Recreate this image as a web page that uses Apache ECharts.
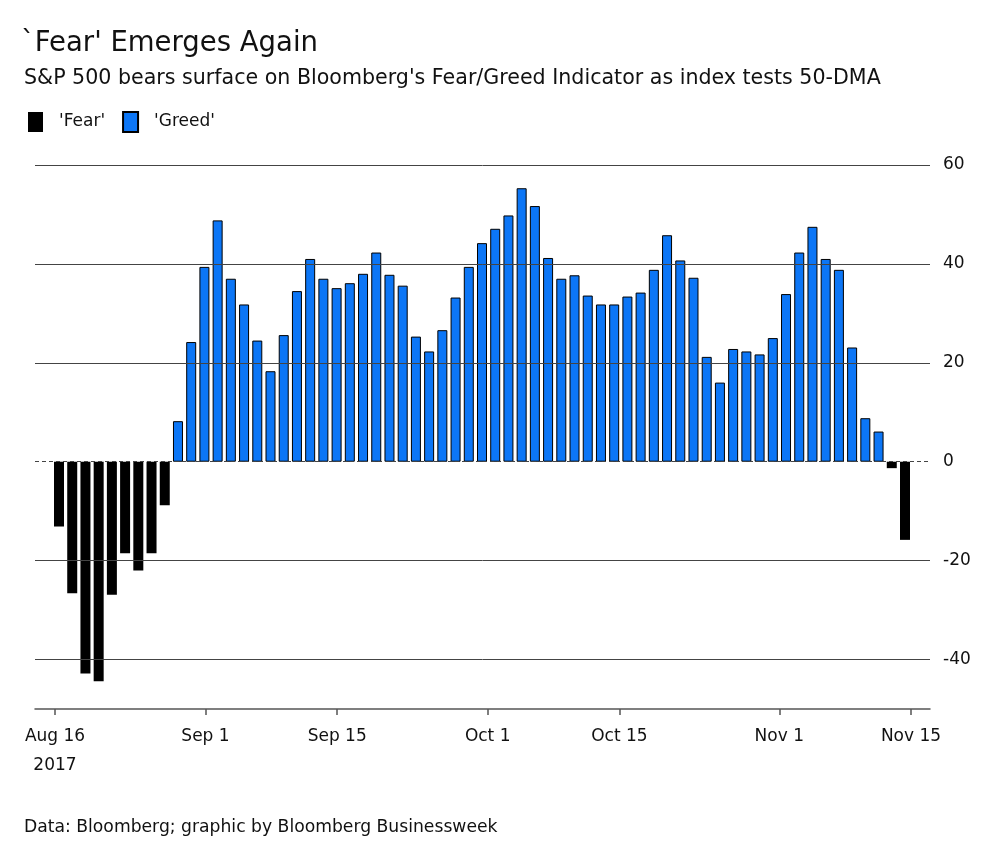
<!DOCTYPE html>
<html>
<head>
<meta charset="utf-8">
<script src="https://cdn.jsdelivr.net/npm/echarts@6/dist/echarts.min.js"></script>
<style>
html,body{margin:0;padding:0;background:#fff;}
#chart{width:1000px;height:846px;}
</style>
</head>
<body>
<div id="chart"></div>
<script>
// Business days, Aug 16 - Nov 15, 2017
const dates = [
  'Aug 16','Aug 17','Aug 18','Aug 21','Aug 22','Aug 23','Aug 24','Aug 25','Aug 28','Aug 29','Aug 30','Aug 31',
  'Sep 1','Sep 5','Sep 6','Sep 7','Sep 8','Sep 11','Sep 12','Sep 13','Sep 14','Sep 15','Sep 18','Sep 19','Sep 20','Sep 21','Sep 22','Sep 25','Sep 26','Sep 27','Sep 28','Sep 29',
  'Oct 2','Oct 3','Oct 4','Oct 5','Oct 6','Oct 9','Oct 10','Oct 11','Oct 12','Oct 13','Oct 16','Oct 17','Oct 18','Oct 19','Oct 20','Oct 23','Oct 24','Oct 25','Oct 26','Oct 27','Oct 30','Oct 31',
  'Nov 1','Nov 2','Nov 3','Nov 6','Nov 7','Nov 8','Nov 9','Nov 10','Nov 13','Nov 14','Nov 15'
];
const fear = [
  -13.1,-26.6,-42.8,-44.4,-26.9,-18.5,-22.0,-18.5,-8.8,
  '-','-','-','-','-','-','-','-','-','-','-','-','-','-','-','-','-','-','-','-','-','-','-','-','-','-','-','-','-','-','-','-','-','-','-','-','-','-','-','-','-','-','-','-','-','-','-','-','-','-','-','-','-','-',
  -1.3,-15.8
];
const greed = [
  '-','-','-','-','-','-','-','-','-',
  8.2,24.2,39.4,48.8,37.0,31.8,24.5,18.3,25.6,34.5,41.0,37.0,35.1,36.1,38.0,42.3,37.8,35.6,25.3,22.3,26.6,
  33.2,39.4,44.2,47.1,49.8,55.3,51.7,41.2,37.0,37.7,33.6,31.8,31.8,33.4,34.2,38.8,45.8,40.7,37.2,
  21.2,16.0,22.8,22.3,21.7,25.0,33.9,42.3,47.5,41.0,38.8,23.1,8.8,6.1,
  '-','-'
];
// calendar-day offsets from Aug 16, 2017 for the date ticks
const tickDays = [0, 16, 30, 46, 60, 77, 91];
const tickLabels = ['Aug 16\n2017', 'Sep 1', 'Sep 15', 'Oct 1', 'Oct 15', 'Nov 1', 'Nov 15'];
const gridValues = [60, 40, 20, -20, -40];
const yLabels = [60, 40, 20, 0, -20, -40];

const FONT = 'DejaVu Sans';
const TXT = '#111';
const BLUE = '#0c76f6';

const chart = echarts.init(document.getElementById('chart'), null, {renderer: 'canvas'});
const option = {
  animation: false,
  backgroundColor: '#fff',
  title: [
    {text: "`Fear' Emerges Again", left: 21, top: 30, padding: 0,
     textStyle: {fontFamily: FONT, fontSize: 27.5, fontWeight: 'normal', color: TXT}},
    {text: "S&P 500 bears surface on Bloomberg's Fear/Greed Indicator as index tests 50-DMA", left: 24, top: 68, padding: 0,
     textStyle: {fontFamily: FONT, fontSize: 20.6, fontWeight: 'normal', color: TXT}},
    {text: 'Data: Bloomberg; graphic by Bloomberg Businessweek', left: 24, top: 819, padding: 0,
     textStyle: {fontFamily: FONT, fontSize: 17.2, fontWeight: 'normal', color: TXT}}
  ],
  legend: {
    data: ["'Fear'", "'Greed'"],
    left: 28, top: 111, padding: 0,
    itemWidth: 15, itemHeight: 20, itemGap: 17,
    icon: 'rect',
    textStyle: {fontFamily: FONT, fontSize: 17, color: TXT, padding: [0, 0, 0, 11]}
  },
  grid: [
    {left: 35, top: 165, width: 895, height: 544},
    {left: 52.4, top: 165, width: 859.2, height: 544}
  ],
  xAxis: [
    {
      type: 'value', gridIndex: 0,
      min: -2.126, max: 93.02,
      axisLine: {show: true, onZero: false, lineStyle: {color: '#555', width: 1.5}},
      axisTick: {show: true, customValues: tickDays, length: 6, lineStyle: {color: '#555', width: 1.5}},
      axisLabel: {
        customValues: tickDays,
        margin: 13,
        fontFamily: FONT, fontSize: 17, color: TXT, lineHeight: 29,
        formatter: function (v) { const i = tickDays.indexOf(Math.round(v)); return i >= 0 ? tickLabels[i] : ''; }
      },
      splitLine: {show: false}
    },
    {
      type: 'category', gridIndex: 1, data: dates, show: false,
      boundaryGap: true
    }
  ],
  yAxis: [
    {
      type: 'value', gridIndex: 0, position: 'right',
      min: -50, max: 60, interval: 10,
      axisLine: {show: false}, axisTick: {show: false},
      splitLine: {show: false},
      axisLabel: {
        margin: 13, fontFamily: FONT, fontSize: 17, color: TXT,
        formatter: function (v) { return yLabels.indexOf(v) >= 0 ? String(v) : ''; }
      }
    },
    {type: 'value', gridIndex: 1, min: -50, max: 60, show: false}
  ],
  series: [
    {
      type: 'line', xAxisIndex: 0, yAxisIndex: 0, data: [], z: 1,
      markLine: {
        silent: true, symbol: 'none', animation: false,
        label: {show: false},
        data: gridValues.map(v => ({yAxis: v, lineStyle: {color: '#444', width: 1, type: 'solid'}}))
          .concat([{yAxis: 0, lineStyle: {color: '#444', width: 1, type: [4, 3]}}])
      }
    },
    {
      name: "'Fear'", type: 'bar', xAxisIndex: 1, yAxisIndex: 1, stack: 'fg',
      data: fear, barWidth: 10, z: 3,
      itemStyle: {color: '#000'}
    },
    {
      name: "'Greed'", type: 'bar', xAxisIndex: 1, yAxisIndex: 1, stack: 'fg',
      data: greed, barWidth: 10, z: 3,
      itemStyle: {color: BLUE, borderColor: '#000', borderWidth: 1}
    }
  ]
};
chart.setOption(option);
</script>
</body>
</html>
